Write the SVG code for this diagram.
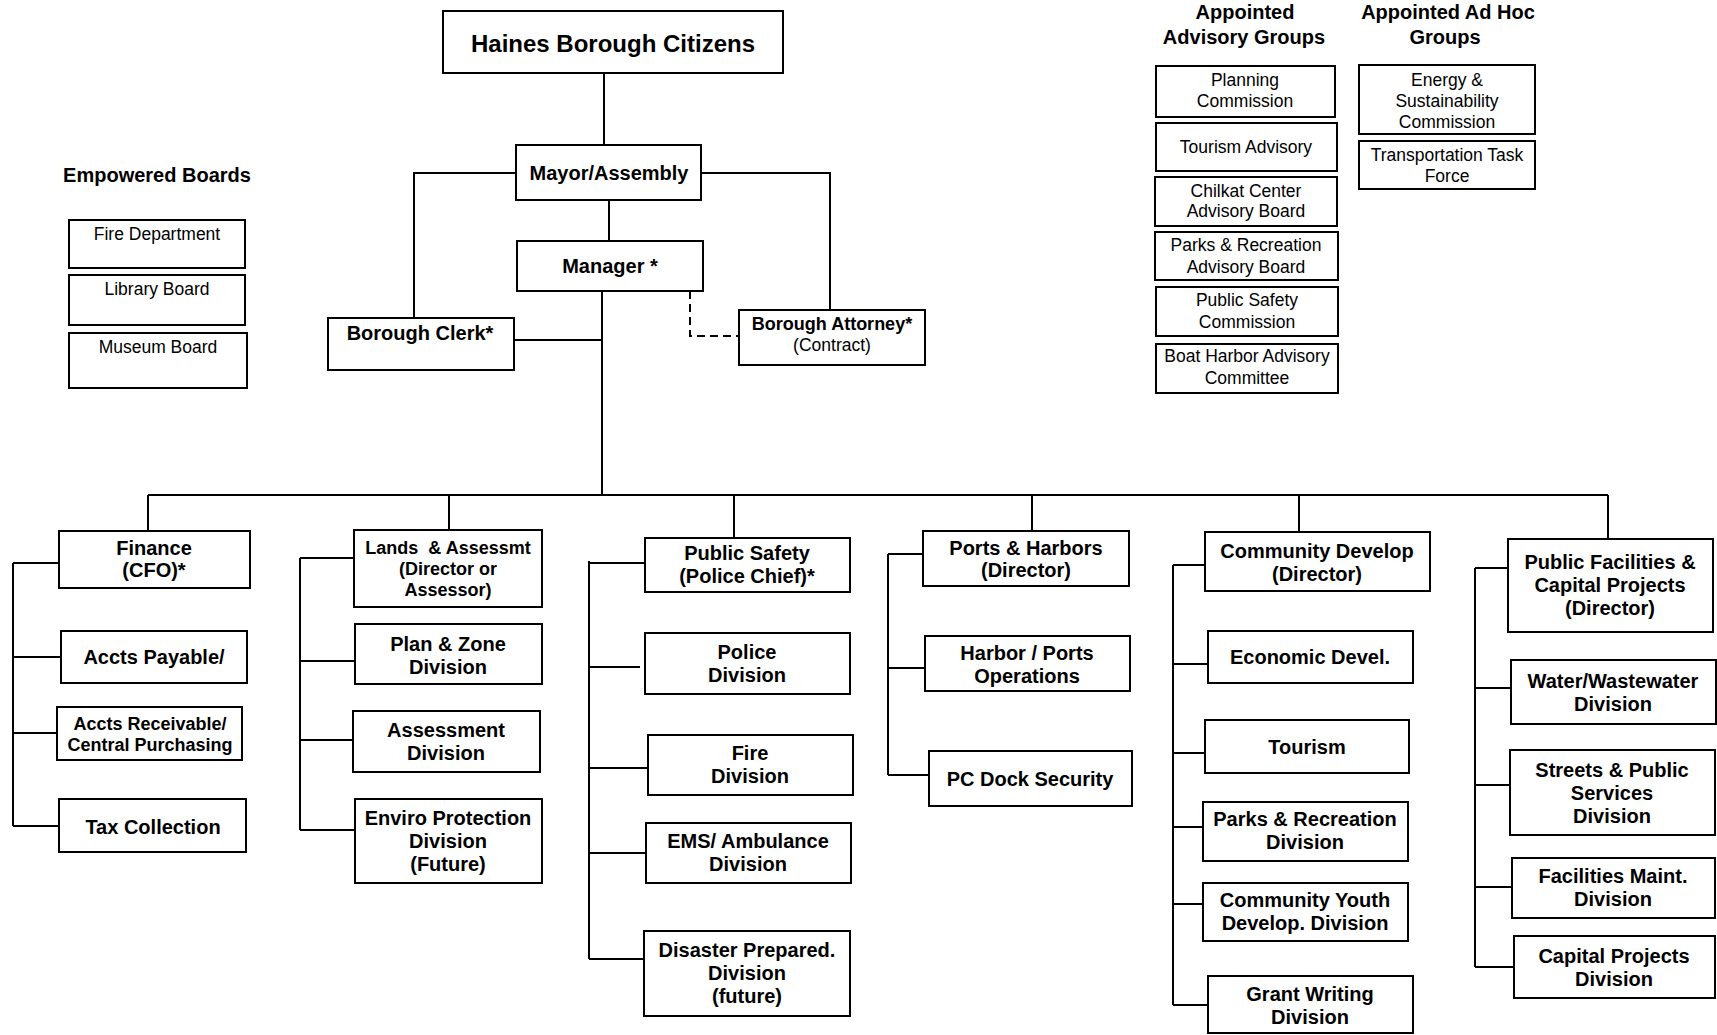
<svg xmlns="http://www.w3.org/2000/svg" width="1717" height="1035" viewBox="0 0 1717 1035">
<style>
.bx{fill:#fff;stroke:#000;stroke-width:2}
.ln{fill:none;stroke:#000;stroke-width:2}
.dash{fill:none;stroke:#000;stroke-width:2;stroke-dasharray:8 5}
text{font-family:"Liberation Sans",Arial,sans-serif;fill:#000;text-anchor:middle}
.h{font-size:24px;font-weight:bold}
.b{font-size:20px;font-weight:bold}
.b18{font-size:18px;font-weight:bold}
.r{font-size:17.5px}
.t{font-size:20px;font-weight:bold}
</style>
<rect width="1717" height="1035" fill="#fff"/>

<g id="connectors">
  <path class="ln" d="M604 73V145"/>
  <path class="ln" d="M609 200V241"/>
  <path class="ln" d="M516 173H414V318"/>
  <path class="ln" d="M701 173H830V310"/>
  <path class="dash" d="M690 291V336H739"/>
  <path class="ln" d="M602 291V495"/>
  <path class="ln" d="M514 340H602"/>
  <path class="ln" d="M148 495H1608"/>
  <path class="ln" d="M148 495V531M449 495V530M734 495V538M1032 495V531M1299 495V532M1608 495V539"/>
  <path class="ln" d="M13 563V826M13 563H59M13 657H61M13 733H57M13 826H59"/>
  <path class="ln" d="M300 558V830M300 558H354M300 661H355M300 740H353M300 830H355"/>
  <path class="ln" d="M589 561V959M589 563H645M589 667H640M589 768H648M589 853H646M589 959H644"/>
  <path class="ln" d="M888 554V775M888 554H923M888 668H925M888 775H929"/>
  <path class="ln" d="M1173 565V1005M1173 565H1205M1173 664H1208M1173 753H1205M1173 827H1203M1173 904H1203M1173 1005H1208"/>
  <path class="ln" d="M1475 568V967M1475 568H1508M1475 688H1511M1475 785H1510M1475 887H1512M1475 967H1514"/>
</g>

<g id="haines"><rect class="bx" x="443" y="11" width="340" height="62"/><text class="h" x="613" y="52">Haines Borough Citizens</text></g>
<g id="mayor"><rect class="bx" x="516" y="145" width="185" height="55"/><text class="b" x="609" y="180">Mayor/Assembly</text></g>
<g id="manager"><rect class="bx" x="517" y="241" width="186" height="50"/><text class="b" x="610" y="273">Manager *</text></g>
<g id="clerk"><rect class="bx" x="328" y="318" width="186" height="52"/><text class="b" x="420" y="340">Borough Clerk*</text></g>
<g id="attorney"><rect class="bx" x="739" y="310" width="186" height="55"/><text class="b18" x="832" y="330">Borough Attorney*</text><text class="r" x="832" y="351">(Contract)</text></g>

<g id="empowered-title"><text class="t" x="157" y="182">Empowered Boards</text></g>
<g id="fire-dept"><rect class="bx" x="69" y="220" width="176" height="48"/><text class="r" x="157" y="240">Fire Department</text></g>
<g id="library"><rect class="bx" x="69" y="275" width="176" height="50"/><text class="r" x="157" y="295">Library Board</text></g>
<g id="museum"><rect class="bx" x="69" y="333" width="178" height="55"/><text class="r" x="158" y="353">Museum Board</text></g>

<g id="advisory-title"><text class="t" x="1245" y="19">Appointed</text><text class="t" x="1244" y="44">Advisory Groups</text></g>
<g id="planning"><rect class="bx" x="1156" y="66" width="179" height="51"/><text class="r" x="1245" y="86">Planning</text><text class="r" x="1245" y="107">Commission</text></g>
<g id="tourism-adv"><rect class="bx" x="1156" y="123" width="181" height="48"/><text class="r" x="1246" y="153">Tourism Advisory</text></g>
<g id="chilkat"><rect class="bx" x="1155" y="177" width="182" height="49"/><text class="r" x="1246" y="197">Chilkat Center</text><text class="r" x="1246" y="217">Advisory Board</text></g>
<g id="parks-adv"><rect class="bx" x="1155" y="232" width="183" height="48"/><text class="r" x="1246" y="251">Parks &amp; Recreation</text><text class="r" x="1246" y="273">Advisory Board</text></g>
<g id="ps-comm"><rect class="bx" x="1156" y="287" width="182" height="49"/><text class="r" x="1247" y="306">Public Safety</text><text class="r" x="1247" y="328">Commission</text></g>
<g id="boat-harbor"><rect class="bx" x="1156" y="344" width="182" height="49"/><text class="r" x="1247" y="362">Boat Harbor Advisory</text><text class="r" x="1247" y="384">Committee</text></g>

<g id="adhoc-title"><text class="t" x="1448" y="19">Appointed Ad Hoc</text><text class="t" x="1445" y="44">Groups</text></g>
<g id="energy"><rect class="bx" x="1359" y="65" width="176" height="69"/><text class="r" x="1447" y="86">Energy &amp;</text><text class="r" x="1447" y="107">Sustainability</text><text class="r" x="1447" y="128">Commission</text></g>
<g id="transport"><rect class="bx" x="1359" y="141" width="176" height="48"/><text class="r" x="1447" y="161">Transportation Task</text><text class="r" x="1447" y="182">Force</text></g>

<g id="finance"><rect class="bx" x="59" y="531" width="191" height="57"/><text class="b" x="154" y="555">Finance</text><text class="b" x="154" y="577">(CFO)*</text></g>
<g id="ap"><rect class="bx" x="61" y="631" width="186" height="52"/><text class="b" x="154" y="664">Accts Payable/</text></g>
<g id="ar"><rect class="bx" x="57" y="707" width="185" height="53"/><text class="b18" x="150" y="730">Accts Receivable/</text><text class="b18" x="150" y="751">Central Purchasing</text></g>
<g id="tax"><rect class="bx" x="59" y="799" width="187" height="53"/><text class="b" x="153" y="834">Tax Collection</text></g>

<g id="lands"><rect class="bx" x="354" y="530" width="188" height="77"/><text class="b18" x="448" y="554" xml:space="preserve">Lands  &amp; Assessmt</text><text class="b18" x="448" y="575">(Director or</text><text class="b18" x="448" y="596">Assessor)</text></g>
<g id="plan-zone"><rect class="bx" x="355" y="624" width="187" height="60"/><text class="b" x="448" y="651">Plan &amp; Zone</text><text class="b" x="448" y="674">Division</text></g>
<g id="assessment"><rect class="bx" x="353" y="711" width="187" height="61"/><text class="b" x="446" y="737">Assessment</text><text class="b" x="446" y="760">Division</text></g>
<g id="enviro"><rect class="bx" x="355" y="799" width="187" height="84"/><text class="b" x="448" y="825">Enviro Protection</text><text class="b" x="448" y="848">Division</text><text class="b" x="448" y="871">(Future)</text></g>

<g id="public-safety"><rect class="bx" x="645" y="538" width="205" height="54"/><text class="b" x="747" y="560">Public Safety</text><text class="b" x="747" y="583">(Police Chief)*</text></g>
<g id="police"><rect class="bx" x="645" y="633" width="205" height="61"/><text class="b" x="747" y="659">Police</text><text class="b" x="747" y="682">Division</text></g>
<g id="fire-div"><rect class="bx" x="648" y="735" width="205" height="60"/><text class="b" x="750" y="760">Fire</text><text class="b" x="750" y="783">Division</text></g>
<g id="ems"><rect class="bx" x="646" y="823" width="205" height="60"/><text class="b" x="748" y="848">EMS/ Ambulance</text><text class="b" x="748" y="871">Division</text></g>
<g id="disaster"><rect class="bx" x="644" y="931" width="206" height="85"/><text class="b" x="747" y="957">Disaster Prepared.</text><text class="b" x="747" y="980">Division</text><text class="b" x="747" y="1003">(future)</text></g>

<g id="ports"><rect class="bx" x="923" y="531" width="206" height="55"/><text class="b" x="1026" y="555">Ports &amp; Harbors</text><text class="b" x="1026" y="577">(Director)</text></g>
<g id="harbor-ops"><rect class="bx" x="925" y="636" width="205" height="55"/><text class="b" x="1027" y="660">Harbor / Ports</text><text class="b" x="1027" y="683">Operations</text></g>
<g id="pc-dock"><rect class="bx" x="929" y="751" width="203" height="55"/><text class="b" x="1030" y="786">PC Dock Security</text></g>

<g id="community"><rect class="bx" x="1205" y="532" width="225" height="59"/><text class="b" x="1317" y="558">Community Develop</text><text class="b" x="1317" y="581">(Director)</text></g>
<g id="economic"><rect class="bx" x="1208" y="631" width="205" height="52"/><text class="b" x="1310" y="664">Economic Devel.</text></g>
<g id="tourism"><rect class="bx" x="1205" y="720" width="204" height="53"/><text class="b" x="1307" y="754">Tourism</text></g>
<g id="parks-div"><rect class="bx" x="1203" y="802" width="205" height="59"/><text class="b" x="1305" y="826">Parks &amp; Recreation</text><text class="b" x="1305" y="849">Division</text></g>
<g id="youth"><rect class="bx" x="1203" y="883" width="205" height="58"/><text class="b" x="1305" y="907">Community Youth</text><text class="b" x="1305" y="930">Develop. Division</text></g>
<g id="grant"><rect class="bx" x="1208" y="976" width="205" height="57"/><text class="b" x="1310" y="1001">Grant Writing</text><text class="b" x="1310" y="1024">Division</text></g>

<g id="public-facilities"><rect class="bx" x="1508" y="539" width="205" height="93"/><text class="b" x="1610" y="569">Public Facilities &amp;</text><text class="b" x="1610" y="592">Capital Projects</text><text class="b" x="1610" y="615">(Director)</text></g>
<g id="water"><rect class="bx" x="1511" y="660" width="205" height="64"/><text class="b" x="1613" y="688">Water/Wastewater</text><text class="b" x="1613" y="711">Division</text></g>
<g id="streets"><rect class="bx" x="1510" y="750" width="205" height="85"/><text class="b" x="1612" y="777">Streets &amp; Public</text><text class="b" x="1612" y="800">Services</text><text class="b" x="1612" y="823">Division</text></g>
<g id="facilities-maint"><rect class="bx" x="1512" y="858" width="203" height="60"/><text class="b" x="1613" y="883">Facilities Maint.</text><text class="b" x="1613" y="906">Division</text></g>
<g id="capital-projects"><rect class="bx" x="1514" y="936" width="201" height="62"/><text class="b" x="1614" y="963">Capital Projects</text><text class="b" x="1614" y="986">Division</text></g>
</svg>
